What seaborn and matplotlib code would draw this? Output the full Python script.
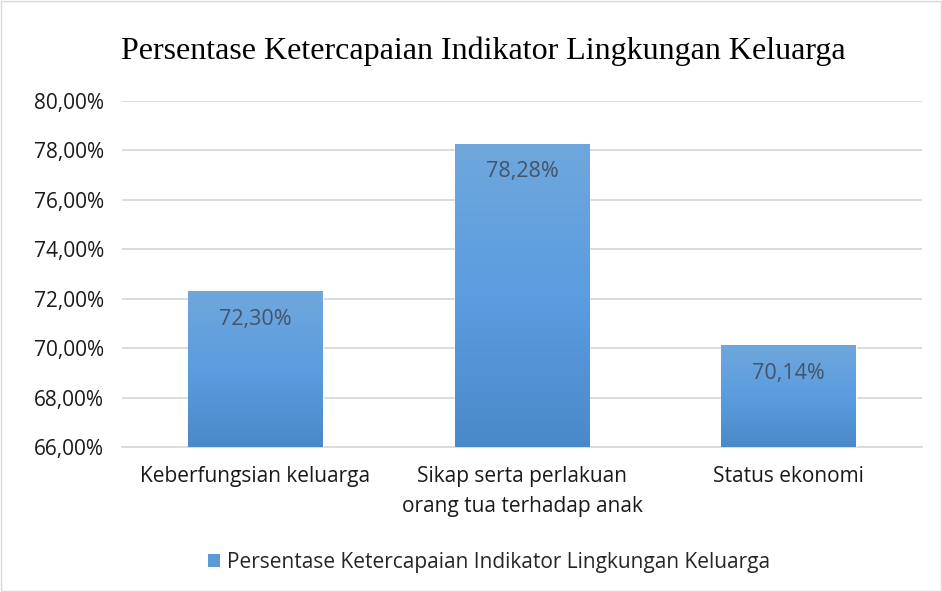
import numpy as np
import pandas as pd
import seaborn as sns
import matplotlib.pyplot as plt
from matplotlib.patches import Patch
from matplotlib.colors import LinearSegmentedColormap

categories = ['Keberfungsian keluarga', 'Sikap serta perlakuan\norang tua terhadap anak', 'Status ekonomi']
values = [72.30, 78.28, 70.14]
series_name = 'Persentase Ketercapaian Indikator Lingkungan Keluarga'
yticks = [66, 68, 70, 72, 74, 76, 78, 80]

sns.set_theme(style='white')
plt.rcParams['font.family'] = ['Open Sans', 'DejaVu Sans']

df = pd.DataFrame({'kategori': categories, 'nilai': values})

fig = plt.figure(figsize=(9.42, 5.92), dpi=100)
ax = fig.add_axes([0.1295, 0.2449, 0.8493, 0.5845])

sns.barplot(data=df, x='kategori', y='nilai', color='#5b9bd5', width=0.506,
            ax=ax, saturation=1, zorder=3)

ax.set_ylim(66, 80)
ax.set_yticks(yticks)
ax.set_yticklabels(['{:.2f}%'.format(v).replace('.', ',') for v in yticks], fontsize=15, color='#1a1a1a')
ax.tick_params(axis='x', labelsize=15, labelcolor='#1a1a1a', pad=14, length=0)
ax.tick_params(axis='y', length=0, pad=13)
for lbl in ax.get_xticklabels():
    lbl.set_linespacing(1.55)
ax.set_xlabel('')
ax.set_ylabel('')
ax.grid(axis='y', color='#d9d9d9', linewidth=1.3, zorder=0)
for s in ['top', 'right', 'left']:
    ax.spines[s].set_visible(False)
ax.spines['bottom'].set_color('#d9d9d9')
ax.spines['bottom'].set_linewidth(1.3)

# gradient fill on each bar
cmap = LinearSegmentedColormap.from_list('grad', ['#4a89c9', '#5b9de0', '#6fa7dc'])
grad = np.linspace(0, 1, 256).reshape(-1, 1)
for p, v in zip(ax.patches, values):
    x0, y0 = p.get_x(), p.get_y()
    w, h = p.get_width(), p.get_height()
    im = ax.imshow(grad, cmap=cmap, aspect='auto', origin='lower',
                   extent=[x0, x0 + w, 66, v], zorder=4)
    im.set_clip_path(p)
    ax.text(x0 + w / 2, v - 1.15, '{:.2f}%'.format(v).replace('.', ','),
            ha='center', va='center', fontsize=15.5, color='#44546a', zorder=5)
ax.set_xlim(-0.5, 2.5)
ax.set_ylim(66, 80)

fig.text(0.513, 0.913, series_name, ha='center', va='center',
         fontsize=23, family='Liberation Serif', color='#000000')

handle = Patch(facecolor='#5b9bd5', edgecolor='none')
fig.legend([handle], [series_name], loc='center', bbox_to_anchor=(0.519, 0.05),
           frameon=False, fontsize=15, handlelength=0.6, handleheight=0.6, handletextpad=0.3)

fig.patches.append(plt.Rectangle((0.001, 0.001), 0.998, 0.998, transform=fig.transFigure,
                                 fill=False, edgecolor='#d9d9d9', linewidth=1))

fig.savefig('out.png', dpi=100)
